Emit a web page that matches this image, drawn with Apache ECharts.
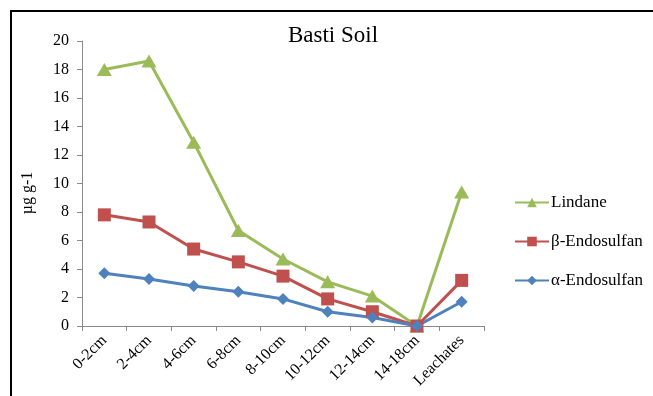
<!DOCTYPE html>
<html>
<head>
<meta charset="utf-8">
<script src="https://cdn.jsdelivr.net/npm/echarts@6/dist/echarts.min.js"></script>
<style>
  html, body { margin: 0; padding: 0; background: #fff; }
  #chart { width: 653px; height: 396px; }
</style>
</head>
<body>
<div id="chart"></div>
<script>
// Soil depth fractions and leachate
const depths = ['0-2cm', '2-4cm', '4-6cm', '6-8cm', '8-10cm', '10-12cm', '12-14cm', '14-18cm', 'Leachates'];
// Residue concentrations (µg g-1)
const lindane = [18.0, 18.6, 12.9, 6.7, 4.7, 3.1, 2.1, 0, 9.4];
const betaEndo = [7.8, 7.3, 5.4, 4.5, 3.5, 1.9, 1.0, 0, 3.2];
const alphaEndo = [3.7, 3.3, 2.8, 2.4, 1.9, 1.0, 0.6, 0, 1.7];
const yTicks = { min: 0, max: 20, interval: 2 };

const font = '"Liberation Serif", "Times New Roman", serif';
const axisGrey = '#898989';

const chart = echarts.init(document.getElementById('chart'), null, { renderer: 'canvas' });

function lineSeries(name, data, color, symbol, size) {
  return {
    name: name,
    type: 'line',
    data: data,
    symbol: symbol,
    symbolSize: size,
    showAllSymbol: true,
    lineStyle: { color: color, width: 3 },
    itemStyle: { color: color },
    z: 3
  };
}

chart.setOption({
  animation: false,
  backgroundColor: '#fff',
  textStyle: { fontFamily: font, color: '#000' },
  title: {
    text: 'Basti Soil',
    left: 328,
    top: 19,
    textAlign: 'center',
    textStyle: { fontFamily: font, fontSize: 23, fontWeight: 'normal', color: '#000' }
  },
  graphic: [{
    type: 'rect',
    shape: { x: 11, y: 11, width: 700, height: 420 },
    style: { fill: 'none', stroke: '#000', lineWidth: 2 },
    silent: true,
    z: 10
  }, {
    // y-axis title
    type: 'text',
    x: 28,
    y: 193,
    rotation: Math.PI / 2,
    style: {
      text: 'µg g-1',
      fill: '#000',
      font: '16px ' + font,
      textAlign: 'center',
      textVerticalAlign: 'middle'
    },
    silent: true
  }],
  legend: {
    orient: 'vertical',
    left: 514,
    top: 194,
    padding: 0,
    itemWidth: 34,
    itemHeight: 12,
    itemGap: 22,
    textStyle: { fontFamily: font, fontSize: 17, color: '#000', padding: [0, 0, 0, -3] },
    data: ['Lindane', 'β-Endosulfan', 'α-Endosulfan']
  },
  grid: { left: 82, right: 169, top: 41, bottom: 70, containLabel: false },
  xAxis: {
    type: 'category',
    data: depths,
    boundaryGap: true,
    axisLine: { lineStyle: { color: axisGrey, width: 1 } },
    axisTick: { show: true, length: 5, alignWithLabel: false, lineStyle: { color: axisGrey } },
    axisLabel: { rotate: 45, interval: 0, fontFamily: font, fontSize: 16, color: '#000', margin: 12 },
    splitLine: { show: false }
  },
  yAxis: {
    type: 'value',
    min: yTicks.min,
    max: yTicks.max,
    interval: yTicks.interval,
    axisLine: { show: true, lineStyle: { color: axisGrey, width: 1 } },
    axisTick: { show: true, length: 5, lineStyle: { color: axisGrey } },
    axisLabel: { fontFamily: font, fontSize: 16, color: '#000', margin: 13 },
    splitLine: { show: false }
  },
  series: [
    lineSeries('Lindane', lindane, '#9BBB59', 'triangle', [15, 13]),
    lineSeries('β-Endosulfan', betaEndo, '#C0504D', 'rect', 13),
    lineSeries('α-Endosulfan', alphaEndo, '#4F81BD', 'diamond', 12)
  ]
});
</script>
</body>
</html>
